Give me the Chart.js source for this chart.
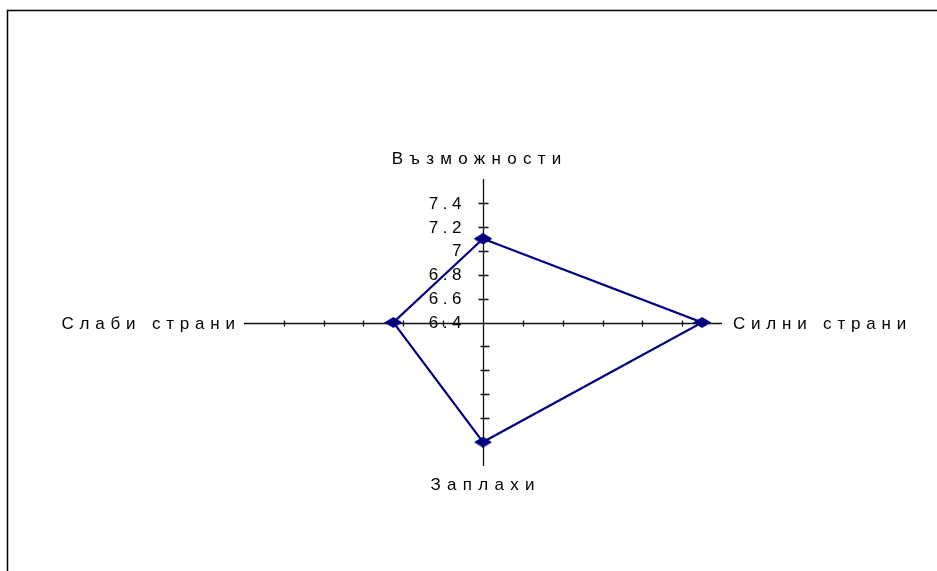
<!DOCTYPE html>
<html>
<head>
<meta charset="utf-8">
<script src="https://cdn.jsdelivr.net/npm/chart.js@4/dist/chart.umd.min.js"></script>
<style>
    html, body { margin: 0; padding: 0; background: #fff; }
    #wrap { width: 937px; height: 571px; }
</style>
</head>
<body>
<div id="wrap"><canvas id="swotChart" width="937" height="571"></canvas></div>
<script>
// Категории (по часовниковата стрелка, започвайки отгоре)
const categories = ['Възможности', 'Силни страни', 'Заплахи', 'Слаби страни'];

// Стойности за всяка категория
const values = [7.1, 7.5, 7.4, 6.85];

// Етикети на скалата
const tickLabels = ['6.4', '6.6', '6.8', '7', '7.2', '7.4'];
const axisMin = 6.4;
const axisMax = 7.6;
const axisStep = 0.2;

// Посоки на осите: горе, дясно, долу, ляво
const directions = [[0, 1], [1, 0], [0, -1], [-1, 0]];
const range = axisMax - axisMin;

const FONT = '17px "Liberation Sans", Arial, sans-serif';
const LINE_COLOR = '#000080';

// Точки на полигона (затворен - първата точка се повтаря)
function buildPoints() {
    const pts = values.map(function(v, i) {
        return { x: directions[i][0] * (v - axisMin), y: directions[i][1] * (v - axisMin) };
    });
    pts.push(pts[0]);
    return pts;
}

// Маркер - ромб
function makeDiamond() {
    const c = document.createElement('canvas');
    c.width = 18;
    c.height = 11;
    const g = c.getContext('2d');
    g.fillStyle = LINE_COLOR;
    g.beginPath();
    g.moveTo(9, 0);
    g.lineTo(18, 5.5);
    g.lineTo(9, 11);
    g.lineTo(0, 5.5);
    g.closePath();
    g.fill();
    return c;
}

// Текст с разредени букви
function drawSpaced(ctx, text, x, y, align, spacing) {
    ctx.letterSpacing = spacing + 'px';
    const w = ctx.measureText(text).width - spacing;
    let left = x;
    if (align === 'center') left = x - w / 2;
    if (align === 'right') left = x - w;
    ctx.textAlign = 'left';
    ctx.fillText(text, left, y);
    ctx.letterSpacing = '0px';
}

// Оси, деления и етикети
const radarAxesPlugin = {
    id: 'radarAxes',
    beforeDatasetsDraw: function(chart) {
        const ctx = chart.ctx;
        const xs = chart.scales.x;
        const ys = chart.scales.y;
        const cx = Math.round(xs.getPixelForValue(0)) + 0.5;
        const cy = Math.round(ys.getPixelForValue(0)) + 0.5;
        const left = xs.getPixelForValue(-range);
        const right = xs.getPixelForValue(range);
        const top = ys.getPixelForValue(range);
        const bottom = ys.getPixelForValue(-range);

        ctx.save();

        // рамка
        ctx.strokeStyle = '#000';
        ctx.lineWidth = 1.5;
        ctx.beginPath();
        ctx.moveTo(7.5, chart.height);
        ctx.lineTo(7.5, 10.5);
        ctx.lineTo(chart.width, 10.5);
        ctx.stroke();

        // оси
        ctx.lineWidth = 1.3;
        ctx.strokeStyle = '#111';
        ctx.beginPath();
        ctx.moveTo(cx, top);
        ctx.lineTo(cx, bottom);
        ctx.moveTo(left, cy);
        ctx.lineTo(right, cy);
        ctx.stroke();

        // деления
        ctx.beginPath();
        for (let v = axisMin + axisStep; v < axisMax - 1e-9; v += axisStep) {
            const r = v - axisMin;
            const yu = Math.round(ys.getPixelForValue(r)) + 0.5;
            const yd = Math.round(ys.getPixelForValue(-r)) + 0.5;
            const xr = Math.round(xs.getPixelForValue(r)) + 0.5;
            const xl = Math.round(xs.getPixelForValue(-r)) + 0.5;
            ctx.moveTo(cx - 5, yu); ctx.lineTo(cx + 5, yu);
            ctx.moveTo(cx - 3, yd); ctx.lineTo(cx + 6, yd);
            ctx.moveTo(xr, cy - 3); ctx.lineTo(xr, cy + 3);
            ctx.moveTo(xl, cy - 3); ctx.lineTo(xl, cy + 3);
        }
        ctx.stroke();

        // етикети на скалата
        ctx.fillStyle = '#000';
        ctx.font = FONT;
        ctx.textBaseline = 'middle';
        tickLabels.forEach(function(t) {
            const y = ys.getPixelForValue(parseFloat(t) - axisMin);
            drawSpaced(ctx, t, cx - 22, y + 1, 'right', 4.5);
        });

        // етикети на категориите
        drawSpaced(ctx, categories[0], cx - 7, top - 20, 'center', 6.3);
        drawSpaced(ctx, categories[1], right + 11, cy + 1, 'left', 5.8);
        drawSpaced(ctx, categories[2], cx - 1, bottom + 19, 'center', 6.3);
        drawSpaced(ctx, categories[3], left - 9, cy + 1, 'right', 5.8);

        ctx.restore();
    }
};

function initSwotChart() {
    const ctx = document.getElementById('swotChart').getContext('2d');
    const diamond = makeDiamond();
    new Chart(ctx, {
        type: 'scatter',
        data: {
            datasets: [{
                data: buildPoints(),
                showLine: true,
                tension: 0,
                borderColor: LINE_COLOR,
                borderWidth: 2.2,
                pointStyle: diamond,
                pointRadius: 9,
                pointHoverRadius: 9,
                clip: false
            }]
        },
        options: {
            responsive: false,
            animation: false,
            layout: {
                padding: { left: 244, right: 215, top: 179, bottom: 105 }
            },
            plugins: {
                legend: { display: false },
                tooltip: { enabled: false }
            },
            scales: {
                x: { type: 'linear', display: false, min: -range, max: range },
                y: { type: 'linear', display: false, min: -range, max: range }
            }
        },
        plugins: [radarAxesPlugin]
    });
}

document.addEventListener('DOMContentLoaded', initSwotChart);
</script>
</body>
</html>
